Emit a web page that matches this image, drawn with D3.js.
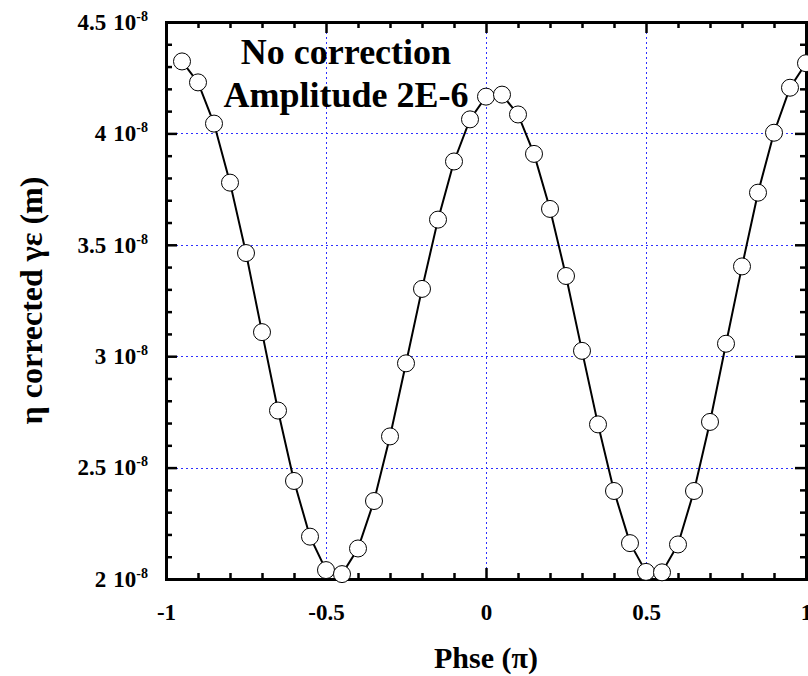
<!DOCTYPE html>
<html lang="en">
<head>
    <meta charset="UTF-8">
    <title>No correction, Amplitude 2E-6</title>
    <style>
        body {
            margin: 0;
            background: #fff;
        }
        svg {
            display: block;
            font-family: "Liberation Serif", "Times New Roman", serif;
            font-weight: bold;
        }
        .axis path, .axis line {
            stroke: #000;
        }
        .axis path {
            stroke-width: 3px;
        }
        .axis .tick line {
            stroke-width: 2.5px;
        }
        .axis text {
            font-family: "Liberation Serif", "Times New Roman", serif;
            font-weight: bold;
            fill: #000;
        }
        .grid {
            stroke: #2f2fff;
            stroke-width: 1px;
            stroke-dasharray: 2, 3;
        }
        .curve {
            fill: none;
            stroke: #000;
            stroke-width: 2px;
        }
        .dot {
            fill: #fff;
            stroke: #000;
            stroke-width: 1px;
        }
    </style>
</head>
<body>
    <svg width="808" height="676"></svg>
    <script src="https://d3js.org/d3.v7.min.js"></script>
    <script>
        // phase in units of pi
        const phase = [-0.95, -0.9, -0.85, -0.8, -0.75, -0.7, -0.65, -0.6, -0.55, -0.5,
                       -0.45, -0.4, -0.35, -0.3, -0.25, -0.2, -0.15, -0.1, -0.05, 0,
                       0.05, 0.1, 0.15, 0.2, 0.25, 0.3, 0.35, 0.4, 0.45, 0.5,
                       0.55, 0.6, 0.65, 0.7, 0.75, 0.8, 0.85, 0.9, 0.95, 1.0];
        // eta corrected (m)
        const etaCorrected = [4.323e-8, 4.229e-8, 4.044e-8, 3.779e-8, 3.463e-8, 3.108e-8, 2.756e-8, 2.440e-8, 2.190e-8, 2.040e-8,
                              2.022e-8, 2.137e-8, 2.350e-8, 2.640e-8, 2.968e-8, 3.302e-8, 3.613e-8, 3.874e-8, 4.063e-8, 4.165e-8,
                              4.174e-8, 4.085e-8, 3.908e-8, 3.661e-8, 3.360e-8, 3.024e-8, 2.694e-8, 2.395e-8, 2.161e-8, 2.032e-8,
                              2.030e-8, 2.155e-8, 2.395e-8, 2.705e-8, 3.056e-8, 3.403e-8, 3.734e-8, 4.003e-8, 4.205e-8, 4.315e-8];

        const xTicks = [-1, -0.5, 0, 0.5, 1];
        const xTickLabels = ["-1", "-0.5", "0", "0.5", "1"];
        const xMinorTicks = [-0.9, -0.8, -0.7, -0.6, -0.4, -0.3, -0.2, -0.1, 0.1, 0.2, 0.3, 0.4, 0.6, 0.7, 0.8, 0.9];
        const yTicks = [2e-8, 2.5e-8, 3e-8, 3.5e-8, 4e-8, 4.5e-8];
        const yTickLabels = ["2", "2.5", "3", "3.5", "4", "4.5"];
        const yMinorTicks = [2.1e-8, 2.2e-8, 2.3e-8, 2.4e-8, 2.6e-8, 2.7e-8, 2.8e-8, 2.9e-8,
                             3.1e-8, 3.2e-8, 3.3e-8, 3.4e-8, 3.6e-8, 3.7e-8, 3.8e-8, 3.9e-8,
                             4.1e-8, 4.2e-8, 4.3e-8, 4.4e-8];
        const xGrid = [-0.5, 0, 0.5];
        const yGrid = [2.5e-8, 3e-8, 3.5e-8, 4e-8];
        const noteLines = ["No correction", "Amplitude 2E-6"];

        const svg = d3.select("svg");
        const mLeft = 166, mRight = 806, mTop = 22, mBottom = 579;

        const x = d3.scaleLinear().domain([-1, 1]).range([mLeft, mRight]);
        const y = d3.scaleLinear().domain([2e-8, 4.5e-8]).range([mBottom, mTop]);

        // grid
        svg.append("g")
            .selectAll("line")
            .data(yGrid)
            .enter().append("line")
            .attr("class", "grid")
            .attr("x1", mLeft).attr("x2", mRight)
            .attr("y1", d => Math.round(y(d)) + 0.5)
            .attr("y2", d => Math.round(y(d)) + 0.5);
        svg.append("g")
            .selectAll("line")
            .data(xGrid)
            .enter().append("line")
            .attr("class", "grid")
            .attr("y1", mTop).attr("y2", mBottom)
            .attr("x1", d => Math.round(x(d)) + 0.5)
            .attr("x2", d => Math.round(x(d)) + 0.5);

        // minor ticks
        svg.append("g").attr("class", "axis")
            .attr("transform", `translate(0,${mBottom})`)
            .call(d3.axisBottom(x).tickValues(xMinorTicks).tickSize(-6).tickFormat(""));
        svg.append("g").attr("class", "axis")
            .attr("transform", `translate(0,${mTop})`)
            .call(d3.axisTop(x).tickValues(xMinorTicks).tickSize(-6).tickFormat(""));
        svg.append("g").attr("class", "axis")
            .attr("transform", `translate(${mLeft},0)`)
            .call(d3.axisLeft(y).tickValues(yMinorTicks).tickSize(-6).tickFormat(""));
        svg.append("g").attr("class", "axis")
            .attr("transform", `translate(${mRight},0)`)
            .call(d3.axisRight(y).tickValues(yMinorTicks).tickSize(-6).tickFormat(""));

        // major ticks
        svg.append("g").attr("class", "axis")
            .attr("transform", `translate(0,${mBottom})`)
            .call(d3.axisBottom(x).tickValues(xTicks).tickSize(-11).tickSizeOuter(0).tickPadding(25)
                .tickFormat((d, i) => xTickLabels[i]))
            .selectAll("text").attr("font-size", 23);
        svg.append("g").attr("class", "axis")
            .attr("transform", `translate(0,${mTop})`)
            .call(d3.axisTop(x).tickValues(xTicks).tickSize(-11).tickSizeOuter(0).tickFormat(""));
        svg.append("g").attr("class", "axis")
            .attr("transform", `translate(${mRight},0)`)
            .call(d3.axisRight(y).tickValues(yTicks).tickSize(-11).tickSizeOuter(0).tickFormat(""));
        const yAxis = svg.append("g").attr("class", "axis")
            .attr("transform", `translate(${mLeft},0)`)
            .call(d3.axisLeft(y).tickValues(yTicks).tickSize(-11).tickSizeOuter(0).tickPadding(18)
                .tickFormat(""));
        const yText = yAxis.selectAll(".tick text")
            .attr("font-size", 23);
        yText.append("tspan").text((d, i) => yTickLabels[i]);
        yText.append("tspan").attr("dx", 7).text("10");
        yText.append("tspan").attr("dy", -9).attr("font-size", 14).text("-8");

        // curve and markers
        const pts = phase.map((p, i) => [p, etaCorrected[i]]);
        svg.append("path")
            .datum(pts)
            .attr("class", "curve")
            .attr("d", d3.line().x(d => x(d[0])).y(d => y(d[1])));
        svg.append("g")
            .selectAll("circle")
            .data(pts)
            .enter().append("circle")
            .attr("class", "dot")
            .attr("r", 8.5)
            .attr("cx", d => x(d[0]))
            .attr("cy", d => y(d[1]));

        // note
        svg.append("g")
            .selectAll("text")
            .data(noteLines)
            .enter().append("text")
            .attr("x", x(-0.4375))
            .attr("y", (d, i) => 64 + i * 43)
            .attr("text-anchor", "middle")
            .attr("font-size", 36)
            .text(d => d);

        // axis titles
        svg.append("text")
            .attr("x", x(0))
            .attr("y", 668)
            .attr("text-anchor", "middle")
            .attr("font-size", 30)
            .text("Phse (π)");
        svg.append("text")
            .attr("transform", `translate(42,${(mTop + mBottom) / 2}) rotate(-90)`)
            .attr("text-anchor", "middle")
            .attr("font-size", 32)
            .text("η corrected γε (m)");
    </script>
</body>
</html>
